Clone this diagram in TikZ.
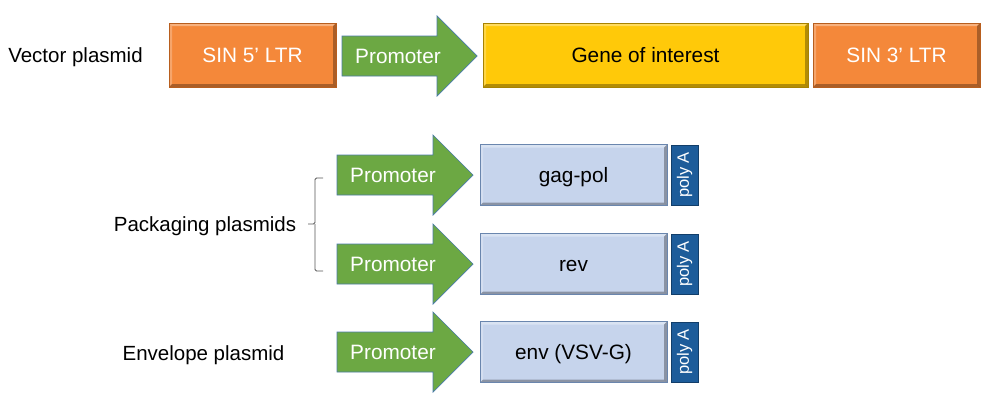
\documentclass[tikz,border=0pt]{standalone}
\usepackage{fontspec}
\setmainfont{Liberation Sans}
\definecolor{orangeF}{HTML}{F4883A}
\definecolor{orangeD}{HTML}{B85E1E}
\definecolor{yellowF}{HTML}{FFC909}
\definecolor{yellowD}{HTML}{A88200}
\definecolor{greenF}{HTML}{6CA843}
\definecolor{arrowline}{HTML}{4A7BA8}
\definecolor{blueF}{HTML}{C6D4EC}
\definecolor{blueD}{HTML}{6A86AE}
\definecolor{polyF}{HTML}{1D5C9A}
\definecolor{polyD}{HTML}{123E6A}
\definecolor{braceC}{HTML}{555555}
\tikzset{
  bev/.style={path picture={
    \fill[white,opacity=0.35] (path picture bounding box.north west) -- (path picture bounding box.north east)
      -- ([xshift=-3pt,yshift=-3pt]path picture bounding box.north east) -- ([xshift=3pt,yshift=-3pt]path picture bounding box.north west) -- cycle;
    \fill[white,opacity=0.25] (path picture bounding box.north west) -- (path picture bounding box.south west)
      -- ([xshift=3pt,yshift=3pt]path picture bounding box.south west) -- ([xshift=3pt,yshift=-3pt]path picture bounding box.north west) -- cycle;
    \fill[black,opacity=0.3] (path picture bounding box.south west) -- (path picture bounding box.south east)
      -- ([xshift=-3pt,yshift=3pt]path picture bounding box.south east) -- ([xshift=3pt,yshift=3pt]path picture bounding box.south west) -- cycle;
    \fill[black,opacity=0.3] (path picture bounding box.north east) -- (path picture bounding box.south east)
      -- ([xshift=-3pt,yshift=3pt]path picture bounding box.south east) -- ([xshift=-3pt,yshift=-3pt]path picture bounding box.north east) -- cycle;
  }},
  gbox/.style={draw, line width=0.5pt, rectangle, inner sep=0pt, outer sep=0pt, bev,
    text height=15pt, text depth=0pt, font=\fontsize{20.8}{24}\selectfont},
  ltr/.style={gbox, fill=orangeF, draw=orangeD, text=white, minimum width=167pt, minimum height=64pt},
  goi/.style={gbox, fill=yellowF, draw=yellowD, text=black, minimum width=325pt, minimum height=64pt},
  gene/.style={gbox, fill=blueF, draw=blueD, text=black, minimum width=187pt, minimum height=61pt},
  polya/.style={draw=polyD, fill=polyF, line width=0.5pt, rectangle, inner sep=0pt, outer sep=0pt,
    minimum width=27pt, minimum height=60pt, text=white, font=\fontsize{16.5}{18}\selectfont},
  arrowsty/.style={fill=greenF, draw=arrowline, line width=0.7pt, line join=miter},
  promtext/.style={text=white, inner sep=0pt, text height=15pt, text depth=0pt, font=\fontsize{20.8}{24}\selectfont},
  lab/.style={text=black, inner sep=0pt, text height=15pt, text depth=0pt, font=\fontsize{20.5}{24}\selectfont},
}
\newcommand{\promarrow}[5]{%
  \draw[arrowsty] (#2,#3-20) -- (#4,#3-20) -- (#4,#3-40) -- (#5,#3) -- (#4,#3+40) -- (#4,#3+20) -- (#2,#3+20) -- cycle;
  \node[promtext] (#1) at (#2+56,#3) {Promoter};}
\begin{document}
\begin{tikzpicture}[x=1pt,y=-1pt]
\useasboundingbox (0,0) rectangle (1000,410);
% Vector plasmid
\node[lab] (vlab) at (75.5,55) {Vector plasmid};
\node[ltr] (ltr5) at (252.5,55) {SIN 5’ LTR};
\promarrow{prom0}{342}{56}{437}{477}
\node[goi] (goi) at (645.5,55) {Gene of interest};
\node[ltr] (ltr3) at (896.5,55) {SIN 3’ LTR};
% Packaging
\promarrow{prom1}{337}{175}{433}{473}
\node[gene] (gag) at (573.5,175) {gag-pol};
\node[polya] (pa1) at (684.5,175) {\rotatebox{90}{poly A}};
\promarrow{prom2}{337}{264}{433}{473}
\node[gene] (rev) at (573.5,264) {rev};
\node[polya] (pa2) at (684.5,264) {\rotatebox{90}{poly A}};
% Envelope
\promarrow{prom3}{337}{352}{433}{473}
\node[gene] (env) at (573.5,352) {env (VSV-G)};
\node[polya] (pa3) at (684.5,352) {\rotatebox{90}{poly A}};
% labels
\node[lab] (plab) at (205,224) {Packaging plasmids};
\node[lab] (elab) at (203.5,353) {Envelope plasmid};
% brace
\coordinate (bt) at (323,178);
\coordinate (bb) at (323,271);
\coordinate (bm) at (308,224);
\draw[braceC, line width=0.9pt, rounded corners=1.5pt] (bt) -- (315,178) -- (315,224) -- (bm);
\draw[braceC, line width=0.9pt, rounded corners=1.5pt] (bb) -- (315,271) -- (315,224);
\end{tikzpicture}
\end{document}
